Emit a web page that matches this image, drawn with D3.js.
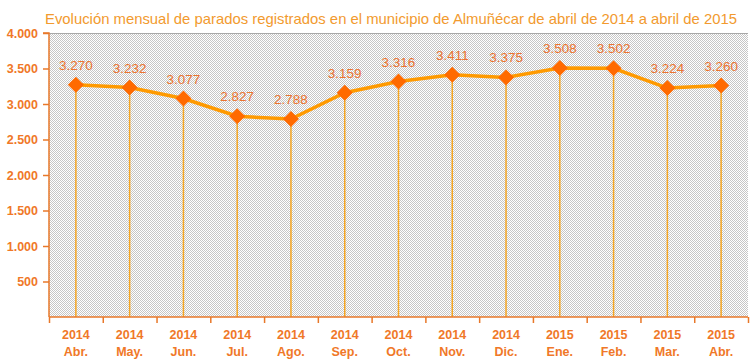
<!DOCTYPE html>
<html><head><meta charset="utf-8">
<script src="https://cdn.jsdelivr.net/npm/d3@7"></script>
<style>body{margin:0;background:#fff}svg{display:block}</style>
</head><body>
<svg id="c" width="750" height="360"></svg>
<script>
const years = ["2014","2014","2014","2014","2014","2014","2014","2014","2014","2015","2015","2015","2015"];
const months = ["Abr.","May.","Jun.","Jul.","Ago.","Sep.","Oct.","Nov.","Dic.","Ene.","Feb.","Mar.","Abr."];
const values = [3270,3232,3077,2827,2788,3159,3316,3411,3375,3508,3502,3224,3260];
const yTicks = [500,1000,1500,2000,2500,3000,3500,4000];
const title = "Evolución mensual de parados registrados en el municipio de Almuñécar de abril de 2014 a abril de 2015";

const svg = d3.select("#c");
const L = 49, R = 748, T = 33, B = 317;
const idx = d3.range(values.length);
const x = d3.scaleBand().domain(idx).range([L, R]);
const y = d3.scaleLinear().domain([0, 4000]).range([B, T]);
const fmt = v => d3.format(",")(v).replace(/,/g, ".");
const cx = i => x(i) + x.bandwidth() / 2;

const defs = svg.append("defs");
const pat = defs.append("pattern").attr("id","chk").attr("width",2).attr("height",2).attr("patternUnits","userSpaceOnUse");
pat.append("rect").attr("width",2).attr("height",2).attr("fill","#ffffff");
pat.append("rect").attr("x",0).attr("y",0).attr("width",1).attr("height",1).attr("fill","#c6c6c6");
pat.append("rect").attr("x",1).attr("y",1).attr("width",1).attr("height",1).attr("fill","#c6c6c6");

svg.append("rect").attr("x",L).attr("y",T).attr("width",R-L).attr("height",B-T).attr("fill","url(#chk)").attr("shape-rendering","crispEdges");
svg.append("line").attr("x1",L).attr("x2",R).attr("y1",T+0.5).attr("y2",T+0.5).attr("stroke","#a8a8a8").attr("stroke-width",1);

svg.append("text").attr("x",45).attr("y",23.5).attr("text-anchor","start")
  .attr("font-family","Liberation Sans, Arial, sans-serif").attr("font-size",15)
  .attr("textLength",692).attr("lengthAdjust","spacingAndGlyphs")
  .attr("fill","#f29a2e").text(title);

// drop lines
svg.append("g").selectAll("line").data(idx).join("line")
  .attr("x1", cx).attr("x2", cx)
  .attr("y1", i => y(values[i])).attr("y2", B)
  .attr("stroke","#f5a623").attr("stroke-width",1.5);

// y axis
const ya = svg.append("g").attr("transform",`translate(${L},0)`)
  .call(d3.axisLeft(y).tickValues(yTicks).tickSize(6).tickFormat(fmt));
ya.select(".domain").attr("d",`M-6,${T}H0V${B}`).attr("stroke","#e8782a").attr("stroke-width",1.5);
ya.selectAll(".tick line").attr("stroke","#e8782a").attr("stroke-width",1.5);
ya.selectAll(".tick text").attr("x",-11).attr("fill","#f07828").attr("font-family","Liberation Sans, Arial, sans-serif")
  .attr("font-size",12.5).attr("font-weight","bold");

// x axis
const xb = d3.scaleLinear().domain([0, values.length]).range([L, R]);
const xa = svg.append("g").attr("transform",`translate(0,${B})`)
  .call(d3.axisBottom(xb).tickValues(d3.range(values.length+1)).tickSize(6).tickFormat(""));
xa.select(".domain").attr("d",`M${L},0H${R}`).attr("stroke","#e8782a").attr("stroke-width",1.5);
xa.selectAll(".tick line").attr("stroke","#e8782a").attr("stroke-width",1.5);

const lab = svg.append("g").attr("font-family","Liberation Sans, Arial, sans-serif").attr("font-size",12.5)
  .attr("font-weight","bold").attr("fill","#f07828").attr("text-anchor","middle");
lab.selectAll("text.yr").data(idx).join("text").attr("class","yr")
  .attr("x", cx).attr("y",339).text(i => years[i]);
lab.selectAll("text.mo").data(idx).join("text").attr("class","mo")
  .attr("x", cx).attr("y",356).text(i => months[i]);

// line
const line = d3.line().x(cx).y(i => y(values[i]));
svg.append("path").datum(idx).attr("d",line).attr("fill","none").attr("stroke","#ff9a00").attr("stroke-width",3.5);

// markers
svg.append("g").selectAll("path").data(idx).join("path")
  .attr("transform", i => `translate(${cx(i)},${y(values[i])})`)
  .attr("d","M0,-8L8,0L0,8L-8,0Z").attr("fill","#ff6a00");

// value labels
svg.append("g").attr("font-family","Liberation Sans, Arial, sans-serif").attr("font-size",13.5)
  .attr("fill","#ec7430").attr("text-anchor","middle")
  .selectAll("text").data(idx).join("text")
  .attr("x", cx).attr("y", i => y(values[i]) - 15).text(i => fmt(values[i]));
</script>
</body></html>
